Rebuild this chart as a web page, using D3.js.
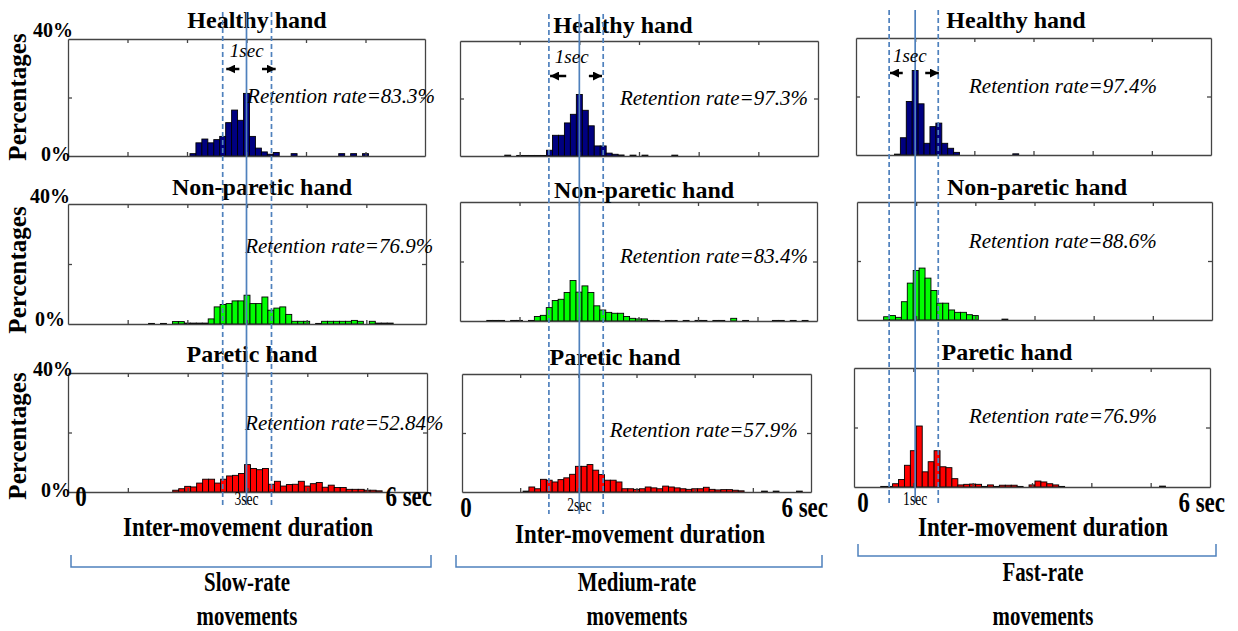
<!DOCTYPE html>
<html>
<head>
<meta charset="utf-8">
<script src="https://cdn.jsdelivr.net/npm/d3@7"></script>
<style>
  body { margin: 0; background: #fff; }
  text { font-family: "Liberation Serif", "Times New Roman", serif; fill: #000; }
</style>
</head>
<body>
<svg id="chart" width="1238" height="631"></svg>
<script>
// ---- data (percentage of movements per 0.1 s bin, bins centred on 0.0 .. 5.9 s) ----
const binSec = d3.range(60).map(i => i / 10);

const slowHealthy = [
  0,0,0,0,0,0,0,0,0,0,
  0,0,0,0,0,0,0,0,0,0,
  0,0.8,4.5,5.8,4.5,5.6,6.7,11.4,15.7,12.2,
  21.4,6.7,2.7,1.4,0.6,1.2,0,0,0.8,0,
  0,0,0,0,0,0,0.8,0,0.8,0,
  0.8,0,0,0,0,0,0,0,0,0];
const mediumHealthy = [
  0,0,0,0,0,0,0,0,0.3,0,
  0.2,0.2,0.2,0.2,0.2,2,7.2,7.2,11.5,14.5,
  21.4,15.9,10.5,3.5,3.5,1,0.6,0.35,0,0.3,
  0,0.3,0,0,0,0,0.3,0,0,0,
  0,0,0,0,0,0,0,0,0,0,
  0,0,0,0,0,0,0,0,0,0];
const fastHealthy = [
  0,0,0,0,0,0,0,0.3,5.9,18.3,
  28.9,17.5,4,9.7,10.9,4,2.3,0.9,0,0,
  0,0,0,0,0,0,0,0.4,0,0,
  0,0,0,0,0,0,0,0,0,0,
  0,0,0,0,0,0,0,0,0,0,
  0,0,0,0,0,0,0,0,0,0];

const slowNonParetic = [
  0,0,0,0,0,0,0,0,0,0,
  0,0,0,0,0.2,0,0.2,0,0.8,0.8,
  0.3,0.3,0.3,0.3,1.7,5.7,6.5,6.8,7.7,7.7,
  9.6,6.8,6.8,9,4.6,5.3,5.7,3.2,0.9,0.9,
  0.9,0,0.2,0.9,0.9,0.9,0.9,0.9,1.2,0.9,
  0,0.9,0.3,0.3,0.3,0,0,0,0,0];
const mediumNonParetic = [
  0,0,0,0,0,0.2,0.2,0.2,0,0.2,
  0.2,0,0.2,1.5,1.9,4.5,6.9,7.3,9.6,13.6,
  9.7,11.8,9.6,5.1,3.7,2.9,2.6,2.6,1.5,0.9,
  0.7,0.7,0.2,0.2,0,0.2,0.2,0,0.2,0,
  0.2,0.2,0,0.2,0.2,0,0.9,0,0.2,0,
  0,0,0,0.2,0.2,0,0.2,0,0.2,0];
const fastNonParetic = [
  0,0,0,0,0,1.1,1.5,0.9,6.2,12.5,
  16.8,17.6,14.2,10,5.7,5.7,3.4,2.6,2.6,1.8,
  1.5,0,0,0,0,0.3,0,0,0,0,
  0,0,0,0,0,0,0,0,0,0,
  0,0,0,0,0,0,0,0,0,0,
  0,0,0,0,0,0,0,0,0,0];

const slowParetic = [
  0,0,0,0,0,0,0,0,0,0,
  0,0,0,0,0,0,0,0,0.6,1.1,
  1.9,1.7,3,4.3,4.3,3,4.3,5.4,5.6,6.2,
  9.2,7.9,7.5,7.9,2.6,3.6,2,2.5,2.6,3.6,
  2,2.8,3.2,1.6,2.3,1.5,1.5,0.9,0.9,0.9,
  0.6,0.6,0.4,0,0,0,0,0,0,0];
const mediumParetic = [
  0,0,0,0,0,0,0,0,0,0,
  0,0.3,1.7,1.1,4.3,4,3.4,4.2,4.8,6,
  8.7,8.7,9.3,7.4,5.9,4,4,3.4,1.1,1.1,
  0.9,1.1,1.7,1.4,1.1,2,1.7,1.4,1.1,0.9,
  1.1,1.1,1.6,0.9,0.7,0.8,0.8,0.6,0.4,0,
  0,0,0.3,0,0.3,0,0,0,0.3,0];
const fastParetic = [
  0,0,0,0,0,0.2,0.2,1.1,2.5,7.3,
  12.2,20.5,5.1,8.5,12.2,6.8,6.5,2.8,0.7,0.9,
  1,0.9,0.2,0.7,0.2,0.6,0.6,0.6,0.2,0,
  0.7,2,1.7,1.1,0.7,0.2,0,0,0,0,
  0,0,0,0,0,0,0,0,0,0,
  0,0,0.3,0,0,0,0,0,0,0];

const handNames = ["Healthy hand", "Non-paretic hand", "Paretic hand"];
const rateNames = ["Slow-rate", "Medium-rate", "Fast-rate"];
const retention = [
  ["83.3%", "97.3%", "97.4%"],
  ["76.9%", "83.4%", "88.6%"],
  ["52.84%", "57.9%", "76.9%"]];
const targetSec = [3, 2, 1];
const windowSec = [[2.6, 3.42], [1.49, 2.4], [0.56, 1.39]];
const targetLabels = ["3sec", "2sec", "1sec"];
const xTicks = [1, 2, 3, 4, 5];
const yTicks = [20];

const series = [
  [slowHealthy, mediumHealthy, fastHealthy],
  [slowNonParetic, mediumNonParetic, fastNonParetic],
  [slowParetic, mediumParetic, fastParetic]];

// ---- layout ----
const fills = ["#000080", "#00ff00", "#ff0000"];
const lineBlue = "#4f81bd";

const boxes = [ // x0, x1, y0, y1
  [[68, 425, 39, 156], [460, 818, 41, 156], [856, 1211, 38, 155]],
  [[68, 426, 204, 324], [460, 817, 202, 321], [857, 1212, 202, 320]],
  [[68, 427, 373, 492], [462, 811, 374, 492], [854, 1210, 368, 487]]];
const titlePos = [
  [[257, 28], [623, 33], [1016, 28]],
  [[262, 195], [644, 198], [1037, 195]],
  [[252, 362], [615, 365], [1007, 360]]];
const retPos = [ // in data units: seconds, percent
  [[3.01, 18.1], [2.68, 17.7], [1.91, 21.2]],
  [[2.97, 23.7], [2.69, 19.5], [1.89, 24.4]],
  [[2.96, 20.8], [2.54, 18.6], [1.94, 21.5]]];
const colLayout = [
  {lineY: [12, 505], tgtY: 505, zero: [81, 506], six: [432, 506], dur: [248, 536],
   bracket: [71, 431, 567], cat: [247, 591, 625], arrowY: 69, secLbl: [2.72, 57], arrows: [2.66, 2.88, 3.26, 3.49]},
  {lineY: [14, 514], tgtY: 511, zero: [466, 517], six: [828, 517], dur: [640, 543],
   bracket: [456, 822, 567], cat: [637, 591, 625], arrowY: 76, secLbl: [1.59, 63], arrows: [1.51, 1.78, 2.16, 2.38]},
  {lineY: [10, 503], tgtY: 505, zero: [863, 512], six: [1225, 512], dur: [1043, 536],
   bracket: [858, 1216, 556], cat: [1043, 581, 625], arrowY: 73, secLbl: [0.625, 62], arrows: [0.575, 0.79, 1.17, 1.40]}];
const rowLabels = [
  {pctY: 97, top: [53, 37], zero: [56, 161]},
  {pctY: 270, top: [50, 203], zero: [50, 326]},
  {pctY: 436, top: [53, 376], zero: [56, 497]}];

const svg = d3.select("#chart");
const defs = svg.append("defs");
defs.append("marker")
    .attr("id", "head")
    .attr("viewBox", "0 0 10 10")
    .attr("refX", 10).attr("refY", 5)
    .attr("markerUnits", "userSpaceOnUse")
    .attr("markerWidth", 9).attr("markerHeight", 9)
    .attr("orient", "auto")
  .append("path")
    .attr("d", "M0,0L10,5L0,10Z")
    .attr("fill", "#000");

// tall, narrow bold text like the stretched labels under the panels
function tallText(g, x, y, size, anchor, str, sx = 0.92, sy = 1.22) {
  return g.append("text")
      .attr("transform", `translate(${x},${y}) scale(${sx},${sy})`)
      .attr("text-anchor", anchor)
      .attr("font-size", size).attr("font-weight", "bold")
      .text(str);
}

const colScales = [];

handNames.forEach((hand, r) => {
  rateNames.forEach((rate, c) => {
    const [x0, x1, y0, y1] = boxes[r][c];
    const x = d3.scaleLinear().domain([0, 6]).range([x0, x1]);
    const y = d3.scaleLinear().domain([0, 40]).range([y1, y0]);
    if (r === 0) colScales[c] = x;
    const g = svg.append("g");

    const bins = binSec.map((s, i) => ({s, v: series[r][c][i]})).filter(d => d.v > 0);
    g.selectAll("rect.bar")
      .data(bins)
      .enter()
      .append("rect")
        .attr("class", "bar")
        .attr("x", d => x(d.s - 0.05))
        .attr("width", x(0.1) - x(0))
        .attr("y", d => y(d.v))
        .attr("height", d => y(0) - y(d.v))
        .attr("fill", fills[r])
        .attr("stroke", "#000")
        .attr("stroke-width", 0.9);

    // frame with inward ticks
    const axes = [
      [d3.axisBottom(x).tickValues(xTicks), `translate(0,${y1})`],
      [d3.axisTop(x).tickValues(xTicks), `translate(0,${y0})`],
      [d3.axisLeft(y).tickValues(yTicks), `translate(${x0},0)`],
      [d3.axisRight(y).tickValues(yTicks), `translate(${x1},0)`]];
    axes.forEach(([ax, tr]) => {
      const a = g.append("g")
          .attr("transform", tr)
          .call(ax.tickSizeInner(-4).tickSizeOuter(0).tickFormat(""));
      a.selectAll("path, line").attr("stroke", "#444").attr("stroke-width", 1.3);
    });

    // titles
    g.append("text")
        .attr("x", titlePos[r][c][0]).attr("y", titlePos[r][c][1])
        .attr("text-anchor", "middle")
        .attr("font-size", 24).attr("font-weight", "bold")
        .text(hand);

    g.append("text")
        .attr("x", x(retPos[r][c][0])).attr("y", y(retPos[r][c][1]))
        .attr("font-size", 21).attr("font-style", "italic")
        .text("Retention rate=" + retention[r][c]);
  });

  // y labels (left column only)
  const L = rowLabels[r];
  svg.append("text")
      .attr("transform", `translate(26,${L.pctY}) rotate(-90)`)
      .attr("text-anchor", "middle")
      .attr("font-size", 25).attr("font-weight", "bold")
      .text("Percentages");
  svg.append("text")
      .attr("x", L.top[0]).attr("y", L.top[1])
      .attr("text-anchor", "middle")
      .attr("font-size", 20).attr("font-weight", "bold")
      .text("40%");
  svg.append("text")
      .attr("x", L.zero[0]).attr("y", L.zero[1])
      .attr("text-anchor", "middle")
      .attr("font-size", 20).attr("font-weight", "bold")
      .text("0%");
});

// column-wide annotations
rateNames.forEach((rate, c) => {
  const x = colScales[c];
  const C = colLayout[c];
  const g = svg.append("g");

  // target / window lines spanning the three panels
  g.append("line")
      .attr("x1", x(targetSec[c])).attr("x2", x(targetSec[c]))
      .attr("y1", C.lineY[0]).attr("y2", C.lineY[1])
      .attr("stroke", lineBlue).attr("stroke-width", 1.7);
  g.selectAll("line.win")
    .data(windowSec[c])
    .enter()
    .append("line")
      .attr("class", "win")
      .attr("x1", d => x(d)).attr("x2", d => x(d))
      .attr("y1", C.lineY[0]).attr("y2", C.lineY[1])
      .attr("stroke", lineBlue).attr("stroke-width", 1.7)
      .attr("stroke-dasharray", "5,3");

  // 1sec arrows
  const [lt, ltail, rtail, rt] = C.arrows;
  [[ltail, lt], [rtail, rt]].forEach(([from, to]) => {
    g.append("line")
        .attr("x1", x(from)).attr("x2", x(to))
        .attr("y1", C.arrowY).attr("y2", C.arrowY)
        .attr("stroke", "#000").attr("stroke-width", 2.5)
        .attr("marker-end", "url(#head)");
  });
  g.append("text")
      .attr("x", x(C.secLbl[0])).attr("y", C.secLbl[1])
      .attr("font-size", 19).attr("font-style", "italic")
      .text("1sec");

  // bottom axis labels
  g.append("text")
      .attr("transform", `translate(${x(targetSec[c])},${C.tgtY}) scale(0.85,1.2)`)
      .attr("text-anchor", "middle")
      .attr("font-size", 16)
      .text(targetLabels[c]);
  tallText(g, C.zero[0], C.zero[1], 25, "middle", "0");
  tallText(g, C.six[0], C.six[1], 25, "end", "6 sec");
  tallText(g, C.dur[0], C.dur[1], 23, "middle", "Inter-movement duration", 1.0, 1.2);

  // bracket
  const [bx0, bx1, by] = C.bracket;
  g.append("path")
      .attr("d", `M${bx0},${by - 12}V${by}H${bx1}V${by - 12}`)
      .attr("fill", "none")
      .attr("stroke", lineBlue).attr("stroke-width", 1.5);

  tallText(g, C.cat[0], C.cat[1], 22, "middle", rate, 0.95, 1.25);
  tallText(g, C.cat[0], C.cat[2], 22, "middle", "movements", 0.95, 1.25);
});
</script>
</body>
</html>
